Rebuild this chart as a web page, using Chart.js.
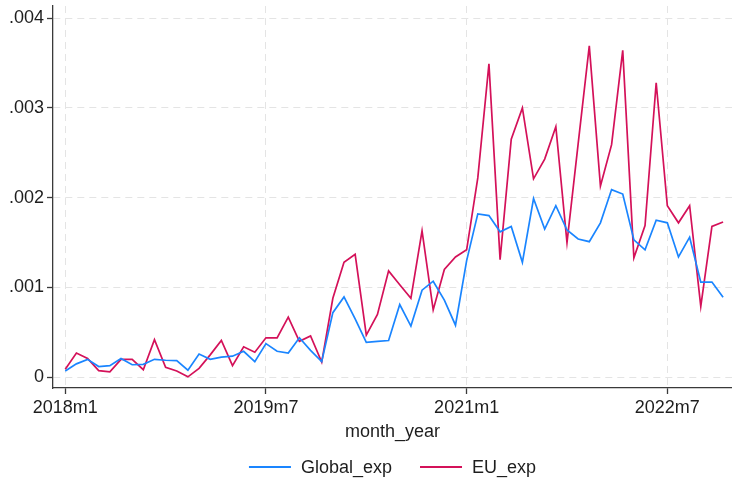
<!DOCTYPE html>
<html>
<head>
<meta charset="utf-8">
<script src="https://cdn.jsdelivr.net/npm/chart.js@4.4.1/dist/chart.umd.min.js"></script>
<style>
  html, body { margin: 0; padding: 0; background: #ffffff; }
  #wrap { width: 732px; height: 481px; }
</style>
</head>
<body>
<div id="wrap"><canvas id="c" width="732" height="481"></canvas></div>
<script>
// Monthly series, 2018m1 .. 2022m12
const startYear = 2018;
const monthCount = 60;

const globalExp = [
  0.00007, 0.00015, 0.00020, 0.00012, 0.00013, 0.00021, 0.00014, 0.000145, 0.00020, 0.00019,
  0.000185, 0.00008, 0.00026, 0.00020, 0.000225, 0.000235, 0.00029, 0.000175, 0.000375, 0.00029,
  0.00027, 0.00044, 0.00030, 0.000175, 0.00072, 0.000895, 0.00065, 0.00039, 0.00040, 0.00041,
  0.00081, 0.00057, 0.00097, 0.00107, 0.00086, 0.00058, 0.00130, 0.00182, 0.00180, 0.00162,
  0.00168, 0.00128, 0.00199, 0.00165, 0.00191, 0.00164, 0.00154, 0.00151, 0.00172, 0.00209,
  0.00204, 0.00153, 0.00142, 0.00175, 0.00172, 0.00134, 0.00156, 0.00106, 0.00106, 0.00089
];

const euExp = [
  0.00009, 0.00027, 0.00021, 0.000075, 0.00006, 0.00020, 0.00020, 0.000085, 0.00042, 0.00011,
  0.00007, 0.000005, 0.00010, 0.00025, 0.00041, 0.00013, 0.00034, 0.00028, 0.00044, 0.00044,
  0.00067, 0.00040, 0.00046, 0.00017, 0.00088, 0.00128, 0.00137, 0.00047, 0.00070, 0.001185,
  0.00103, 0.00088, 0.00163, 0.00075, 0.00120, 0.00134, 0.00142, 0.00222, 0.00349, 0.00131,
  0.00265, 0.00300, 0.00221, 0.00243, 0.00279, 0.00150, 0.00260, 0.00369, 0.00213, 0.00259,
  0.00364, 0.00133, 0.00169, 0.00328, 0.00191, 0.00172, 0.00191, 0.00079, 0.00168, 0.00173
];

const xTickPositions = [0, 18, 36, 54];
const xTickLabels = ['2018m1', '2019m7', '2021m1', '2022m7'];
const yTickValues = [0, 0.001, 0.002, 0.003, 0.004];
const yTickLabels = ['0', '.001', '.002', '.003', '.004'];

const seriesNames = ['Global_exp', 'EU_exp'];
const seriesColors = ['#1a85ff', '#d41159'];

// Stata-style month labels (e.g. 2019m7)
const monthLabels = [];
for (let i = 0; i < monthCount; i++) {
  monthLabels.push((startYear + Math.floor(i / 12)) + 'm' + (i % 12 + 1));
}

const toPoints = arr => arr.map((v, i) => ({ x: i, y: v }));

const FONT = '"Liberation Sans", Arial, Helvetica, sans-serif';
const TEXT_COLOR = '#1e1e1e';
const AXIS_COLOR = '#3a3a3a';
const GRID_COLOR = '#e4e4e4';

Chart.defaults.font.family = FONT;
Chart.defaults.font.size = 18;
Chart.defaults.color = TEXT_COLOR;

// Legend drawn beneath the axis title: short line sample followed by the series name
const bottomLegend = {
  id: 'bottomLegend',
  afterDraw(chart) {
    const ctx = chart.ctx;
    const area = chart.chartArea;
    const lineLen = 42, gapText = 10, gapItem = 28;
    ctx.save();
    ctx.font = '18px ' + FONT;
    const widths = seriesNames.map(n => ctx.measureText(n).width);
    let total = 0;
    widths.forEach((w, i) => { total += lineLen + gapText + w + (i < widths.length - 1 ? gapItem : 0); });
    let x = (area.left + area.right) / 2 - total / 2;
    const y = 467;
    ctx.textBaseline = 'middle';
    ctx.textAlign = 'left';
    seriesNames.forEach((n, i) => {
      ctx.strokeStyle = seriesColors[i];
      ctx.lineWidth = 2;
      ctx.beginPath();
      ctx.moveTo(x, y);
      ctx.lineTo(x + lineLen, y);
      ctx.stroke();
      x += lineLen + gapText;
      ctx.fillStyle = TEXT_COLOR;
      ctx.fillText(n, x, y + 1);
      x += widths[i] + gapItem;
    });
    ctx.restore();
  }
};

const axisGrid = {
  color: GRID_COLOR,
  lineWidth: 1,
  drawTicks: true,
  tickLength: 6,
  tickColor: AXIS_COLOR,
  tickWidth: 1.3,
  tickBorderDash: [0, 0]
};
const axisBorder = { display: true, color: AXIS_COLOR, width: 1.3, dash: [7, 5] };

new Chart(document.getElementById('c'), {
  type: 'line',
  data: {
    datasets: [
      {
        label: seriesNames[0],
        data: toPoints(globalExp),
        borderColor: seriesColors[0],
        backgroundColor: seriesColors[0],
        borderWidth: 1.7,
        pointRadius: 0,
        tension: 0
      },
      {
        label: seriesNames[1],
        data: toPoints(euExp),
        borderColor: seriesColors[1],
        backgroundColor: seriesColors[1],
        borderWidth: 1.7,
        pointRadius: 0,
        tension: 0
      }
    ]
  },
  options: {
    responsive: false,
    animation: false,
    devicePixelRatio: 1,
    layout: {
      autoPadding: false,
      padding: { left: 0, right: 0, top: 6, bottom: 31 }
    },
    plugins: {
      legend: { display: false },
      tooltip: { enabled: false }
    },
    scales: {
      x: {
        type: 'linear',
        min: -1.1,
        max: 59.8,
        afterFit(scale) {
          scale.height = 62;
          scale.paddingLeft = 0;
          scale.paddingRight = 0;
        },
        afterBuildTicks(scale) { scale.ticks = xTickPositions.map(v => ({ value: v })); },
        ticks: {
          autoSkip: false,
          maxRotation: 0,
          padding: 3,
          color: TEXT_COLOR,
          font: { size: 18 },
          callback(value) {
            const k = xTickPositions.indexOf(value);
            return k >= 0 ? xTickLabels[k] : '';
          }
        },
        grid: axisGrid,
        border: axisBorder,
        title: {
          display: true,
          text: 'month_year',
          color: TEXT_COLOR,
          font: { size: 18 },
          padding: { top: 0, bottom: 7 }
        }
      },
      y: {
        type: 'linear',
        min: -0.000119,
        max: 0.004134,
        afterFit(scale) {
          scale.width = 53;
          scale.paddingTop = 0;
          scale.paddingBottom = 0;
        },
        afterBuildTicks(scale) { scale.ticks = yTickValues.map(v => ({ value: v })); },
        ticks: {
          padding: 3,
          color: TEXT_COLOR,
          font: { size: 18 },
          callback(value) {
            const k = yTickValues.findIndex(v => Math.abs(v - value) < 1e-9);
            return k >= 0 ? yTickLabels[k] : '';
          }
        },
        grid: axisGrid,
        border: axisBorder
      }
    }
  },
  plugins: [bottomLegend]
});
</script>
</body>
</html>
